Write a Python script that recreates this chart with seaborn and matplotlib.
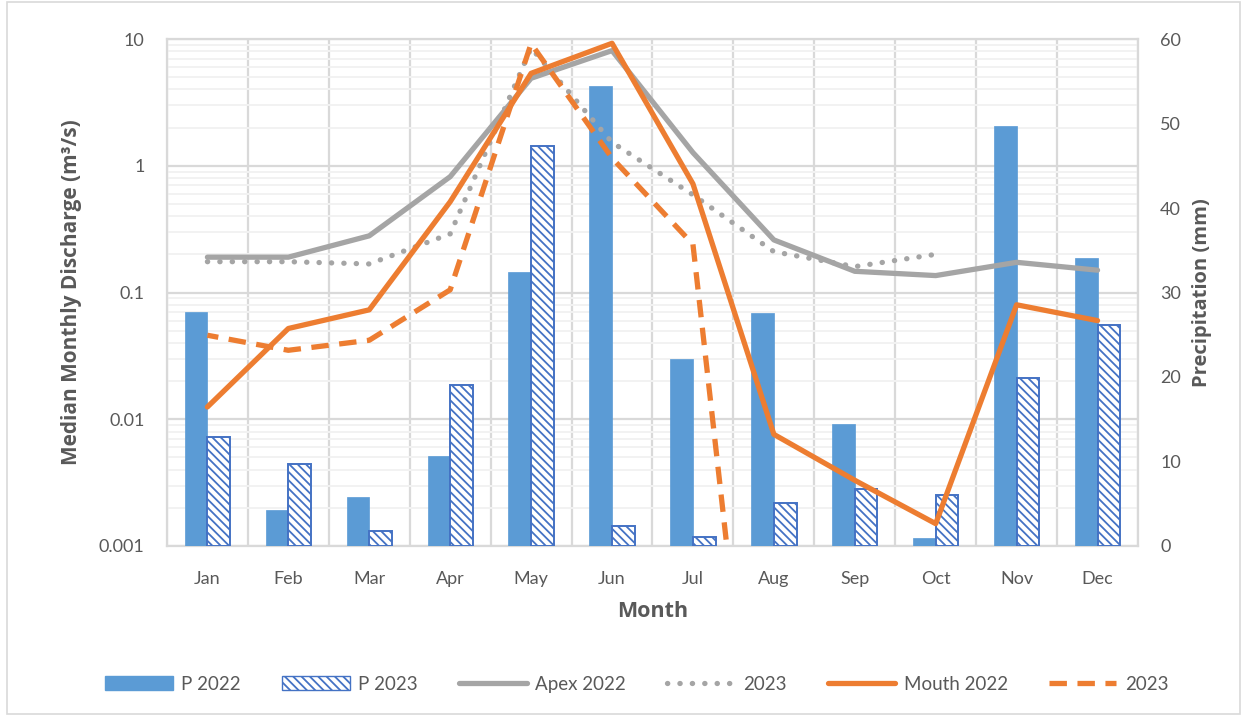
import numpy as np
import pandas as pd
import seaborn as sns
import matplotlib.pyplot as plt
from matplotlib.patches import Patch, Rectangle
from matplotlib.lines import Line2D
from matplotlib.ticker import LogLocator, NullFormatter

# Data
months = ["Jan", "Feb", "Mar", "Apr", "May", "Jun", "Jul", "Aug", "Sep", "Oct", "Nov", "Dec"]
p_2022 = [27.7, 4.3, 5.8, 10.6, 32.4, 54.4, 22.1, 27.6, 14.4, 0.9, 49.7, 34.1]
p_2023 = [12.9, 9.7, 1.8, 19.0, 47.3, 2.4, 1.1, 5.1, 6.8, 6.0, 19.9, 26.1]
apex_2022 = [0.19, 0.19, 0.28, 0.82, 4.9, 8.1, 1.27, 0.26, 0.147, 0.136, 0.173, 0.15]
apex_2023 = [0.175, 0.175, 0.168, 0.29, 8.5, 1.53, 0.59, 0.21, 0.16, 0.2, np.nan, np.nan]
mouth_2022 = [0.0125, 0.052, 0.073, 0.52, 5.36, 9.25, 0.72, 0.0076, 0.0033, 0.0015, 0.080, 0.060]
mouth_2023 = [0.046, 0.035, 0.042, 0.105, 9.2, 1.15, 0.24, 5e-7, np.nan, np.nan, np.nan, np.nan]

BLUE = "#5B9BD5"
DARK_BLUE = "#4472C4"
GREY = "#A5A5A5"
ORANGE = "#ED7D31"
TEXT = "#595959"
GRID = "#D9D9D9"
LW = 3.8
DOTS = (0, (0.05, 2.3))
DASHES = (1.2, (3.3, 2.0))
HATCH = "\\\\\\\\"

sns.set_theme(style="white")
plt.rcParams["font.family"] = ["Lato", "DejaVu Sans"]
plt.rcParams["hatch.linewidth"] = 1.3

bars = pd.DataFrame({
    "month": months * 2,
    "precip": p_2022 + p_2023,
    "series": ["P 2022"] * 12 + ["P 2023"] * 12,
})

fig = plt.figure(figsize=(12.44, 7.17), dpi=100)
ax = fig.add_axes([0.1342, 0.2385, 0.7806, 0.7071])
ax.set_yscale("log")
ax.set_ylim(0.001, 10)
ax.set_xlim(-0.5, 11.5)

# gridlines live on the bottom axes so the bars cover them
ax.yaxis.set_minor_locator(LogLocator(base=10, subs=np.arange(2, 10), numticks=10))
ax.yaxis.set_minor_formatter(NullFormatter())
ax.set_yticks([0.001, 0.01, 0.1, 1, 10], ["0.001", "0.01", "0.1", "1", "10"])
ax.set_xticks(np.arange(12), months)
ax.set_xticks(np.arange(-0.5, 12, 1), minor=True)
ax.grid(True, which="major", axis="y", color=GRID, linewidth=1.6)
ax.grid(True, which="minor", axis="y", color="#F2F2F2", linewidth=1.4)
ax.grid(True, which="minor", axis="x", color=GRID, linewidth=1.6)
ax.grid(False, which="major", axis="x")
ax.tick_params(which="both", length=0, labelsize=13, labelcolor=TEXT)
ax.tick_params(axis="x", pad=18)
ax.tick_params(axis="y", pad=16)
for s in ax.spines.values():
    s.set_color(GRID)
    s.set_linewidth(1.6)

# precipitation bars on the right axis
ax2 = ax.twinx()
sns.barplot(data=bars, x="month", y="precip", hue="series",
            palette=[BLUE, BLUE], width=0.56, gap=0, saturation=1,
            legend=False, ax=ax2)
for patch in ax2.containers[1]:
    patch.set_facecolor("white")
    patch.set_edgecolor(DARK_BLUE)
    patch.set_hatch(HATCH)
    patch.set_linewidth(1.4)
for patch in ax2.containers[0]:
    patch.set_edgecolor(BLUE)
    patch.set_linewidth(0.5)
ax2.set_ylim(0, 60)
ax2.set_yticks(np.arange(0, 61, 10))
ax2.set_xlim(-0.5, 11.5)
ax2.tick_params(length=0, labelsize=13, labelcolor=TEXT, pad=16)
ax2.set_xlabel("")
ax2.set_ylabel("Precipitation (mm)", fontsize=14.5, fontweight="bold",
               color=TEXT, family=["Open Sans", "DejaVu Sans"], labelpad=8)
for s in ax2.spines.values():
    s.set_visible(False)

# discharge lines on a third, log-scaled axes above the bars
ax3 = ax.twinx()
ax3.set_yscale("log")
ax3.set_ylim(0.001, 10)
x = np.arange(len(months))
sns.lineplot(x=x, y=apex_2022, ax=ax3, color=GREY, linewidth=LW,
             solid_joinstyle="round")
sns.lineplot(x=x, y=apex_2023, ax=ax3, color=GREY, linewidth=LW,
             linestyle=DOTS, dash_capstyle="round")
sns.lineplot(x=x, y=mouth_2022, ax=ax3, color=ORANGE, linewidth=LW,
             solid_joinstyle="round")
sns.lineplot(x=x, y=mouth_2023, ax=ax3, color=ORANGE, linewidth=LW,
             linestyle=DASHES, dash_joinstyle="round")
ax3.set_ylim(0.001, 10)
ax3.set_xlim(-0.5, 11.5)
ax3.set_yticks([])
ax3.set_yticks([], minor=True)
ax3.set_ylabel("")
for s in ax3.spines.values():
    s.set_visible(False)

ax.set_xlabel("Month", fontsize=15.5, fontweight="bold", color=TEXT,
              family=["Open Sans", "DejaVu Sans"], labelpad=10)
ax.set_ylabel("Median Monthly Discharge (m³/s)", fontsize=15, fontweight="bold",
              color=TEXT, family=["Open Sans", "DejaVu Sans"], labelpad=12)

handles = [
    Patch(facecolor=BLUE, edgecolor=BLUE, label="P 2022"),
    Patch(facecolor="white", edgecolor=DARK_BLUE, hatch=HATCH, label="P 2023"),
    Line2D([], [], color=GREY, linewidth=LW, label="Apex 2022"),
    Line2D([], [], color=GREY, linewidth=LW, linestyle=DOTS,
           dash_capstyle="round", label="2023"),
    Line2D([], [], color=ORANGE, linewidth=LW, label="Mouth 2022"),
    Line2D([], [], color=ORANGE, linewidth=LW, linestyle=(0, (3.3, 2.0)), label="2023"),
]
fig.legend(handles=handles, loc="center", bbox_to_anchor=(0.512, 0.046), ncol=6,
           frameon=False, fontsize=13.5, labelcolor=TEXT, handlelength=3.6,
           handleheight=0.8, handletextpad=0.45, columnspacing=2.2)

fig.patches.append(Rectangle((0.006, 0.004), 0.991, 0.993, transform=fig.transFigure,
                             fill=False, edgecolor=GRID, linewidth=1.2))

fig.savefig("out.png", dpi=100)
